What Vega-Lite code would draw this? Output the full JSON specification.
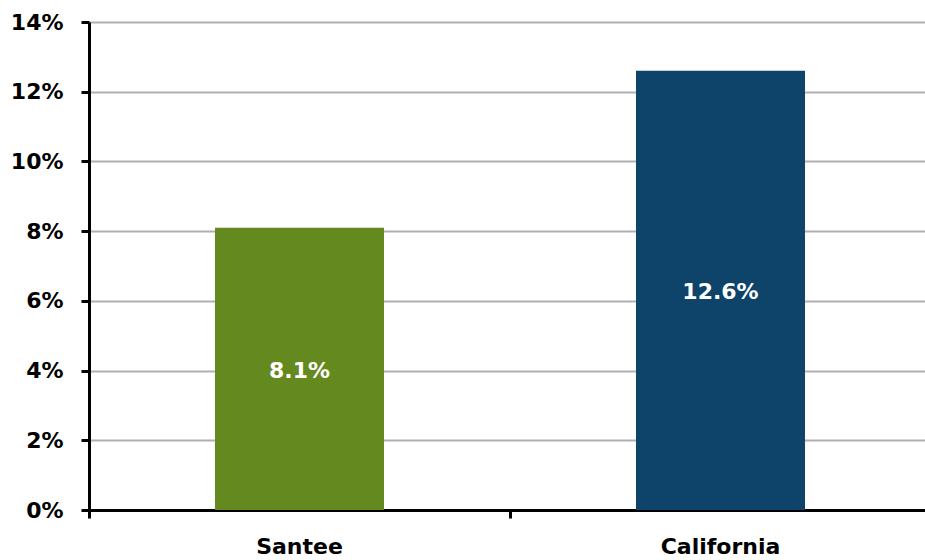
{
  "$schema": "https://vega.github.io/schema/vega-lite/v6.json",
  "autosize": {"type": "none"},
  "padding": {"left": 89, "top": 22, "right": 0, "bottom": 50},
  "width": 836,
  "height": 488,
  "background": "white",
  "data": {
    "values": [
      {"area": "Santee", "rate": 8.1, "label": "8.1%"},
      {"area": "California", "rate": 12.6, "label": "12.6%"}
    ]
  },
  "transform": [{"calculate": "datum.rate / 2", "as": "mid"}],
  "encoding": {
    "x": {
      "field": "area",
      "type": "nominal",
      "sort": ["Santee", "California"],
      "scale": {"range": [0, 842], "paddingInner": 0, "paddingOuter": 0},
      "axis": {
        "title": null,
        "bandPosition": 0,
        "labelAngle": 0,
        "labelFont": "DejaVu Sans",
        "labelFontWeight": "bold",
        "labelFontSize": 22,
        "labelColor": "#000000",
        "labelPadding": 18,
        "domainColor": "#000000",
        "domainWidth": 3,
        "tickColor": "#000000",
        "tickWidth": 3,
        "tickSize": 8,
        "grid": false
      }
    }
  },
  "layer": [
    {
      "mark": {"type": "bar", "size": 169},
      "encoding": {
        "y": {
          "field": "rate",
          "type": "quantitative",
          "scale": {"domain": [0, 14], "nice": false},
          "axis": {
            "title": null,
            "values": [0, 2, 4, 6, 8, 10, 12, 14],
            "labelExpr": "datum.value + '%'",
            "labelFont": "DejaVu Sans",
            "labelFontWeight": "bold",
            "labelFontSize": 22,
            "labelColor": "#000000",
            "labelPadding": 18,
            "domainColor": "#000000",
            "domainWidth": 3,
            "tickColor": "#000000",
            "tickWidth": 3,
            "tickSize": 8,
            "gridColor": "#b0b0b0",
            "gridWidth": 2
          }
        },
        "color": {
          "field": "area",
          "type": "nominal",
          "scale": {"domain": ["Santee", "California"], "range": ["#64891E", "#0E436A"]},
          "legend": null
        }
      }
    },
    {
      "mark": {
        "type": "text",
        "color": "white",
        "font": "DejaVu Sans",
        "fontWeight": "bold",
        "fontSize": 22,
        "baseline": "middle",
        "align": "center",
        "dy": 2
      },
      "encoding": {
        "y": {"field": "mid", "type": "quantitative"},
        "text": {"field": "label", "type": "nominal"}
      }
    }
  ]
}
